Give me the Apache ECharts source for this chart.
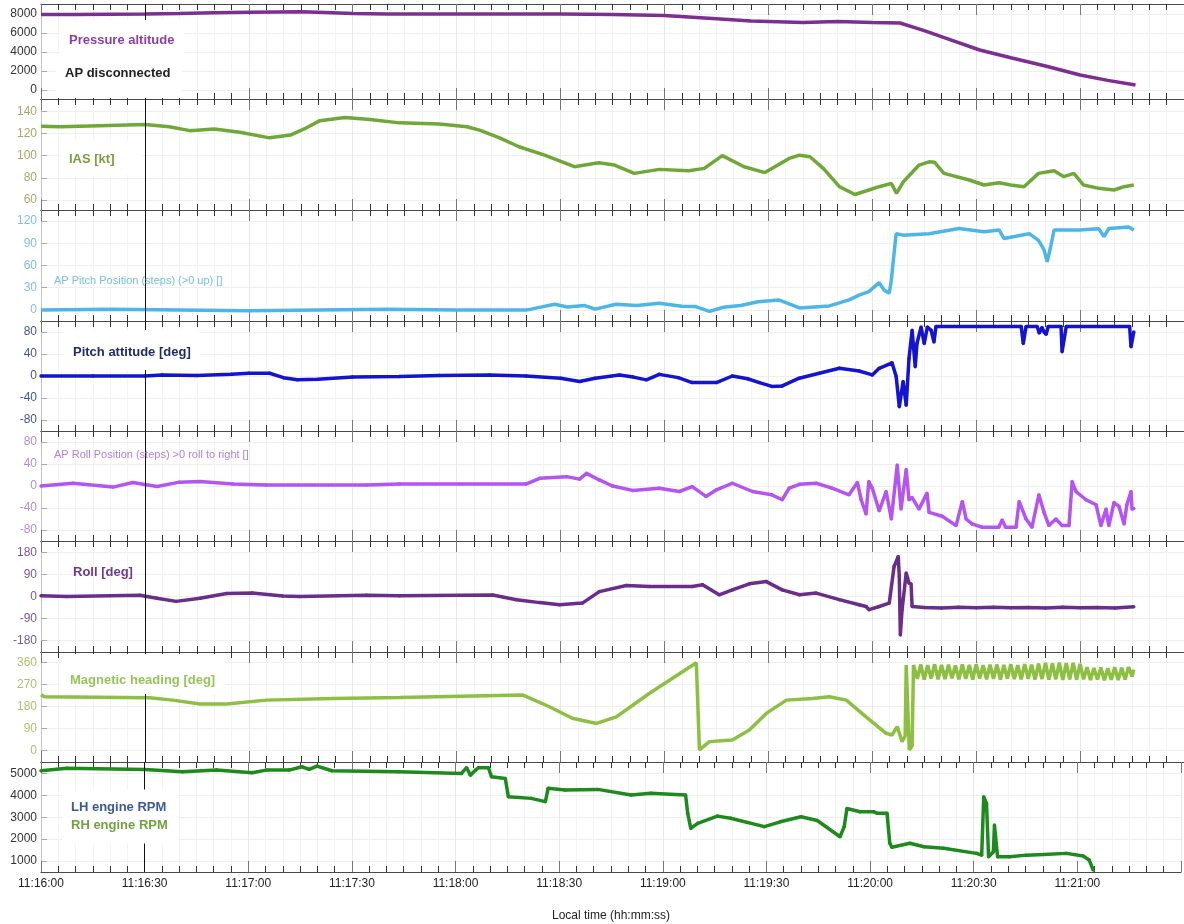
<!DOCTYPE html>
<html><head><meta charset="utf-8">
<script src="https://cdn.jsdelivr.net/npm/echarts@6/dist/echarts.min.js"></script>
<style>html,body{margin:0;padding:0;background:#fff}#c{width:1184px;height:924px}</style>
</head><body><div id="c"></div><script>
// time in seconds after 11:16:00
const apDisconnect = 30;
const altTicks = [0,2000,4000,6000,8000];
const iasTicks = [60,80,100,120,140];
const pitchPosTicks = [0,30,60,90,120];
const pitchTicks = [-80,-40,0,40,80];
const rollPosTicks = [-80,-40,0,40,80];
const rollTicks = [-180,-90,0,90,180];
const hdgTicks = [0,90,180,270,360];
const rpmTicks = [1000,2000,3000,4000,5000];

const altData = [[0,7950],[10,7950],[20,7980],[30,8000],[40,8050],[50,8120],[60,8180],[68,8220],[75,8230],[82,8150],[90,8050],[100,8000],[115,8000],[130,8010],[150,8000],[165,7950],[180,7850],[195,7500],[205,7250],[220,7100],[230,7200],[240,7100],[248,7050],[255,6240],[262,5360],[271,4210],[280,3390],[290,2530],[300,1580],[308,1010],[316,530]];

const iasData = [[0,126.5],[5.5,126],[17,127],[30,128],[37,126],[43,122.5],[50,124],[57.4,121],[66,116],[72,118.5],[76,124],[80.5,131.5],[87.7,134.3],[95,132.5],[103.5,129.5],[115,128.5],[123,126],[126.6,123],[132.4,116],[138,108],[145.4,100.5],[154,90],[161,93.5],[165.6,91.5],[171.3,84],[178.5,87.6],[187,86.4],[191.5,88.5],[196.7,100],[203,90],[209,84.7],[216,97.5],[219,100.4],[222,99],[226,88],[230.5,72],[235,65],[239,69],[242,72],[245.5,75],[247,66],[249,76.5],[253.5,91.5],[256.4,94.4],[258,94],[260.7,84],[268,78],[272.3,73.5],[276.6,75.5],[280,73.5],[283.8,72],[288,84],[292.5,86.4],[295.3,81],[298.2,84],[301,73.5],[305.4,70.5],[309.8,69],[312.7,72],[315.5,73.5]];

const pitchPosData = [[0,0],[20,1],[40,0],[60,-1],[80,0],[100,1],[120,0],[140,0],[141.5,1],[148.3,7.6],[152,4],[157,5.8],[160,1],[166,7.7],[172,6],[178.5,9],[185,5],[189,4.5],[193,-2],[197,3.6],[202,6],[207,11],[213,13.5],[219,2.7],[227.6,5.4],[233.3,13.5],[236.2,20],[239,24.7],[242,36.8],[243.4,27],[244.9,22.5],[245.5,40],[246.3,77],[246.9,103],[249,101],[256.4,103],[265,110],[272.3,105.6],[276.6,108],[278,96.6],[285.3,103],[288,94],[289.6,81],[290.5,65],[291.6,87.6],[292.5,108],[299.7,108],[305.4,109.6],[306.9,99],[308.3,110],[314,112],[315.5,108]];

const pitchData = [[0,0],[15,0],[30,0],[35,2],[45,1],[55,3],[60,5],[66,5],[70,-3],[74,-7],[80,-6],[90,-2],[103.5,-1],[115,1],[129.5,2],[140,0],[150,-4],[155.5,-10],[160,-4],[167,2],[171,-2],[174.8,-7],[178.5,3],[184,-3],[188,-12],[195,-12],[199.6,0],[204,-5],[207.4,-12],[211,-19],[214,-18],[218.9,-4],[224.7,5],[230.5,14],[236.2,9],[240,2],[242,14],[245.7,24],[246.9,-1],[247.8,-56],[248.9,-10],[249.8,-53],[250.6,32],[251.5,83],[252.4,17],[252.9,59],[254.1,89],[255,59],[255.9,89],[257,83],[257.8,62],[258.4,90],[283,90],[283.6,59],[284.4,90],[287.6,90],[288.2,78],[289,88],[289.6,80],[290.2,76],[290.8,90],[294.5,90],[294.8,44],[296,90],[314.3,90],[314.7,53],[315.5,80]];

const rollPosData = [[0,0],[9.2,5],[20.8,-2],[26.5,6.5],[33.5,-1],[40,7],[45.9,8],[55.4,3.6],[65,2],[94,2],[103.5,3.6],[140,3.6],[144,14],[151.7,17],[155.5,12.5],[157.5,23],[161.2,11],[165,0],[170.8,-8],[178.5,-4],[184.3,-10],[188,-1],[192,-19],[195,-7],[199.6,5],[205.4,-10],[211,-16],[214,-25],[216,-4],[219,3],[223.8,5],[228.4,-4],[233.3,-16],[235.7,6.5],[236.8,-25],[238.2,-51],[239,8],[240,-4],[242,-45],[244,-10],[245.5,-60],[247.2,38],[248.3,-42],[249.8,30],[250.6,-25],[251.5,-21],[253.5,-42],[255.8,-13],[256.4,-48],[260.2,-55],[264.2,-72],[266,-28],[267.1,-60],[268.8,-69],[271.7,-75],[276.5,-75],[277.5,-62],[278.5,-75],[281.5,-75],[282.4,-28],[284.4,-60],[286.1,-75],[288.1,-16],[289.6,-48],[291,-72],[293,-60],[294.8,-72],[296.8,-72],[297.7,8],[298.8,-10],[301.7,-25],[304.6,-34],[306,-72],[307.5,-42],[308.3,-72],[309.8,-30],[311.2,-37],[312.7,-69],[313.5,-34],[314.7,-10],[315,-42],[315.5,-41]];

const rollData = [[0,3],[7.5,0],[28.5,5],[33.5,-7],[39,-20],[45.9,-7],[53.6,12],[61,14],[69.8,2],[74.7,0],[94,5],[103.5,3],[130.4,6],[137.3,-13],[144,-25],[149.7,-34],[156.3,-27],[161.2,20],[169,45],[175.7,41],[188,41],[191,48],[195.8,7],[199.6,27],[204.5,52],[209.4,61],[214,27],[219,7],[223.8,14],[230.5,-13],[236.2,-34],[238.2,-41],[239.1,-54],[242,-41],[244.9,-27],[246.3,123],[247.5,164],[247.8,82],[248.1,-157],[248.6,-54],[249.8,96],[250.6,55],[251.2,51],[251.5,-41],[255,-45],[260,-47],[265,-44],[270,-46],[275,-44],[280,-46],[285,-45],[290,-47],[295,-44],[300,-46],[305,-45],[310,-47],[315.5,-42]];

const hdgData = [[0,228],[1,220],[31.4,216],[38,206],[45.9,190],[53.6,190],[65,206],[84.2,213],[103.5,217],[139,227],[146.8,179],[153.4,132],[160.4,111],[166.1,138],[175.7,234],[189.2,358],[190.1,3],[193,37],[199.6,44],[204.5,84],[209.4,152],[215.2,206],[222.7,213],[227.6,220],[232.5,206],[238.2,138],[244,71],[245.7,64],[247.2,98],[248.6,37],[249.5,60],[249.8,349],[250.3,345],[250.7,3],[251.5,20],[251.9,349],
[253,293],[254,351],[255,290],[256,348],[257,294],[258,352],[259,291],[260,349],[261,292],[262,350],[263,295],[264,347],[265,291],[266,351],[267,293],[268,349],[269,290],[270,352],[271,294],[272,348],[273,291],[274,350],[275,293],[276,351],[277,290],[278,349],[279,294],[280,352],[281,292],[282,348],[283,291],[284,353],[285,293],[286,350],[287,290],[288,355],[289,292],[290,358],[291,289],[292,356],[293,291],[294,359],[295,288],[296,357],[297,290],[298,358],[299,289],[300,354],[301,291],[302,340],[303,288],[304,337],[305,290],[306,339],[307,287],[308,336],[309,289],[310,340],[311,288],[312,338],[313,290],[314,341],[315,302],[315.5,330]];

const rpmData = [[0,5120],[7.5,5230],[30,5180],[41,5070],[50.8,5150],[61.1,5030],[65.2,5150],[71.8,5150],[75.6,5300],[77.6,5180],[79.9,5330],[84.2,5120],[103.5,5070],[121.7,5000],[123.2,5260],[124.3,4920],[125.8,5150],[126.6,5260],[129.5,5260],[130.4,4850],[134.4,4770],[135.3,3930],[141.9,3860],[146,3710],[146.8,4320],[151.7,4240],[161.2,4270],[170.8,4010],[176.5,4090],[186.6,4010],[187.2,3180],[188.1,2490],[190.1,2720],[195.8,3050],[199.6,2950],[209.4,2570],[214,2790],[220,3020],[224.7,2850],[231.3,2110],[232.5,2570],[233.3,3400],[237.1,3250],[241.1,3250],[242,3180],[244.9,3180],[245.7,1810],[246.3,1630],[251.5,1810],[255.6,1650],[261.3,1580],[270.8,1350],[272.3,1270],[272.9,3930],[273.7,3630],[274.3,1200],[275.7,1420],[276,2640],[276.9,1200],[280.4,1200],[285.3,1270],[290.2,1300],[296.8,1350],[301.7,1230],[303.4,1050],[304.6,590]];

const FONT = '"Liberation Sans", Arial, sans-serif';
const layout = [[4,95],[99,111],[210,111],[321,110],[431,110],[541,111],[652,110],[762,110]];
const panels = [
  {data:altData, color:'#7d2f8f', ticks:altTicks, min:-950, max:9050, lc:'#333', sym:false},
  {data:iasData, color:'#70a838', ticks:iasTicks, min:51, max:151, lc:'#a9a866', sym:false},
  {data:pitchPosData, color:'#4cb6e6', ticks:pitchPosTicks, min:-15, max:135, lc:'#7fbfe0', sym:false},
  {data:pitchData, color:'#1414d0', ticks:pitchTicks, min:-100, max:100, lc:'#46568a', sym:true},
  {data:rollPosData, color:'#b455f0', ticks:rollPosTicks, min:-100, max:100, lc:'#b08fd2', sym:true},
  {data:rollData, color:'#6b2d8a', ticks:rollTicks, min:-227, max:227, lc:'#7a5a8c', sym:true},
  {data:hdgData, color:'#8cbf42', ticks:hdgTicks, min:-46, max:402, lc:'#b0c070', sym:false},
  {data:rpmData, color:'#1e8a1e', ticks:rpmTicks, min:500, max:5520, lc:'#333', sym:true}
];
function pad(n){return (n<10?'0':'')+n;}
function fmt(v){ if (v>=330) return ''; const s=11*3600+16*60+Math.round(v); return Math.floor(s/3600)+':'+pad(Math.floor(s%3600/60))+':'+pad(s%60); }

const grid = layout.map(([top,h])=>({left:41, width:1144, top:top, height:h}));
const xAxis = [];
layout.forEach((_,i)=>{
  const base = {gridIndex:i, type:'value', min:0, max:330, interval:30,
    axisLine:{show:true, onZero:false, lineStyle:{color:'#4a4a4a', width:1.2}},
    axisTick:{show:true, inside:true, length:11, lineStyle:{color:'#777', width:1}},
    minorTick:{show:true, splitNumber:6, length:6, lineStyle:{color:'#333', width:1}}};
  xAxis.push(Object.assign({}, base, {position:'bottom',
    axisLabel: i===7 ? {show:true, formatter:fmt, color:'#222', fontSize:12, margin:6, fontFamily:FONT} : {show:false},
    splitLine:{show:true, lineStyle:{color:'#e8e8e8'}},
    minorSplitLine:{show:true, lineStyle:{color:'#f3f3f3'}},
    name: i===7 ? 'Local time (hh:mm:ss)' : '', nameLocation:'middle', nameGap:38,
    nameTextStyle:{color:'#222', fontSize:12, fontFamily:FONT}}));
  xAxis.push(Object.assign({}, base, {position:'top', axisLabel:{show:false}, splitLine:{show:false}}));
});
const yAxis = panels.map((p,i)=>({gridIndex:i, type:'value', min:p.min, max:p.max,
  axisLine:{show:true, lineStyle:{color:'#c4c4c4'}},
  axisTick:{show:true, inside:true, length:6, customValues:p.ticks, lineStyle:{color:'#aaa'}},
  axisLabel:{customValues:p.ticks, formatter:v=>String(v), color:p.lc, fontSize:12, margin:4, fontFamily:FONT},
  splitLine:{show:true, lineStyle:{color:'#eeeeee'}}
}));
const series = panels.map((p,i)=>({type:'line', xAxisIndex:2*i, yAxisIndex:i, data:p.data,
  showSymbol:p.sym, symbol:'circle', symbolSize:3.5, lineStyle:{color:p.color, width:3.5}, itemStyle:{color:p.color},
  animation:false, silent:true,
  markLine:{silent:true, symbol:['none','none'], label:{show:false}, animation:false,
    lineStyle:{color:'#111', width:1, type:'solid'}, data:[{xAxis:apDisconnect}]}}));
const ts = (c, s, w)=>({color:c, fontSize:s||13, fontWeight:w||'bold', lineHeight:15, fontFamily:FONT});
const title = [
  {text:'Pressure altitude', left:60, top:20, padding:[13,9,6,9], backgroundColor:'#fff', textStyle:ts('#8c3fa8')},
  {text:'AP disconnected', left:56, top:54, padding:[12,12,17,9], backgroundColor:'#fff', textStyle:ts('#222')},
  {text:'IAS [kt]', left:61, top:140, padding:[12,28,8,8], backgroundColor:'#fff', textStyle:ts('#7a9e3c')},
  {text:'AP Pitch Position (steps) (>0 up) []', left:54, top:273, padding:0, textStyle:ts('#76c0e0',11,'normal')},
  {text:'Pitch attitude [deg]', left:64, top:330, padding:[15,10,10,9], backgroundColor:'#fff', textStyle:ts('#1e2c6c')},
  {text:'AP Roll Position (steps) >0 roll to right []', left:54, top:447, padding:0, textStyle:ts('#b27fe0',11,'normal')},
  {text:'Roll [deg]', left:73, top:565, padding:0, textStyle:ts('#6f3a90')},
  {text:'Magnetic heading [deg]', left:61, top:654, padding:[19,10,6,9], backgroundColor:'#fff', textStyle:ts('#96c45a')},
  {text:'{a|LH engine RPM}\n{b|RH engine RPM}', left:62, top:787, padding:[11,10,12,9], backgroundColor:'#fff',
   textStyle:{fontFamily:FONT, rich:{a:{color:'#3b5a9a', fontSize:13, fontWeight:'bold', lineHeight:18, fontFamily:FONT}, b:{color:'#74a044', fontSize:13, fontWeight:'bold', lineHeight:18, fontFamily:FONT}}}}
];
const chart = echarts.init(document.getElementById('c'), null, {renderer:'canvas'});
chart.setOption({animation:false, backgroundColor:'#fff', title, grid, xAxis, yAxis, series});
</script></body></html>
